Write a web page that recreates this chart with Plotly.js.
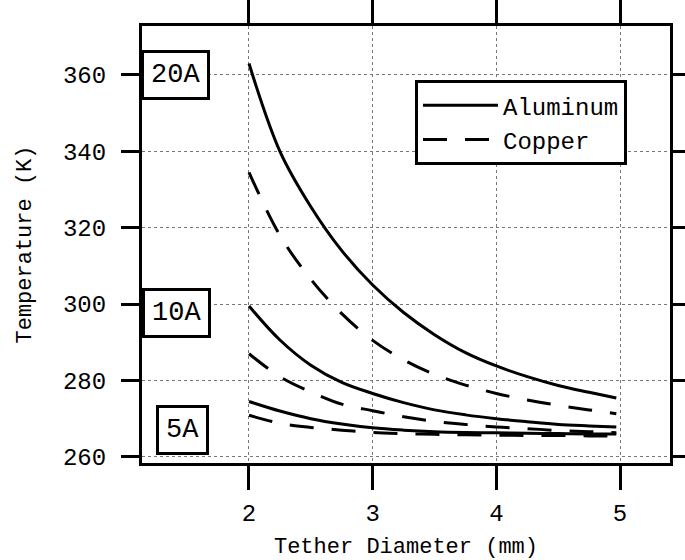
<!DOCTYPE html>
<html>
<head>
<meta charset="utf-8">
<script src="https://cdn.plot.ly/plotly-3.0.1.min.js"></script>
<style>html,body{margin:0;padding:0;background:#fff;}#chart{width:685px;height:560px;}</style>
</head>
<body>
<div id="chart"></div>
<script>
// Tether diameter (mm)
const diameter = [2, 2.25, 2.5, 2.75, 3, 3.25, 3.5, 3.75, 4, 4.25, 4.5, 4.75, 4.97];
// Temperature (K)
const al20 = [363, 340, 325.5, 314, 305, 297.8, 292, 287.3, 283.8, 281, 278.7, 276.9, 275.4];
const cu20 = [334.5, 318, 306.5, 297.5, 290.5, 285.4, 281.6, 278.8, 276.6, 274.9, 273.5, 272.3, 271.3];
const al10 = [299.5, 290.6, 284, 279.5, 276.6, 274.2, 272.3, 271, 270, 269.2, 268.5, 268.1, 267.8];
const cu10 = [287, 281, 277, 273.8, 272.1, 270.5, 269.3, 268.5, 267.8, 267.4, 266.9, 266.6, 266.3];
const al5 = [274.5, 272, 270, 268.6, 267.6, 267, 266.6, 266.4, 266.3, 266.2, 266.1, 266.0, 266.0];
const cu5 = [270.9, 268.8, 267.7, 267.0, 266.4, 266.1, 265.9, 265.8, 265.7, 265.6, 265.6, 265.5, 265.5];
const currentLabels = ["20A", "10A", "5A"];
const currentLabelY = [360, 297.7, 267];
const xTicks = [2, 3, 4, 5];
const yTicks = [260, 280, 300, 320, 340, 360];

const FONT = "Liberation Mono, Courier New, monospace";
const solid = {color: "#000", width: 3, shape: "spline", dash: "solid"};
const dashed = {color: "#000", width: 3, shape: "spline", dash: "24px,18px"};

const traces = [
  {x: diameter, y: al20, name: "Aluminum", mode: "lines", line: solid, showlegend: true},
  {x: diameter, y: cu20, name: "Copper", mode: "lines", line: dashed, showlegend: true},
  {x: diameter, y: al10, name: "Aluminum 10A", mode: "lines", line: solid, showlegend: false},
  {x: diameter, y: cu10, name: "Copper 10A", mode: "lines", line: dashed, showlegend: false},
  {x: diameter, y: al5, name: "Aluminum 5A", mode: "lines", line: solid, showlegend: false},
  {x: diameter, y: cu5, name: "Copper 5A", mode: "lines", line: dashed, showlegend: false}
];

const labelX = [0.064, 0.066, 0.076];
const annotations = currentLabels.map((t, i) => ({
  text: t, xref: "paper", yref: "y", x: labelX[i], y: currentLabelY[i],
  xanchor: "center", yanchor: "middle", showarrow: false,
  font: {family: FONT, size: 27, color: "#000"},
  bgcolor: "#fff", bordercolor: "#000", borderwidth: 3, borderpad: 7
}));

const axisCommon = {
  showline: true, linecolor: "#000", linewidth: 3, mirror: "ticks",
  ticks: "outside", tickcolor: "#000", tickwidth: 3,
  showgrid: true, gridcolor: "#777", gridwidth: 1, griddash: "dot",
  zeroline: false, tickfont: {family: FONT, size: 24, color: "#000"}
};

const layout = {
  width: 685, height: 560,
  margin: {l: 142, r: 15, t: 26, b: 97},
  paper_bgcolor: "#fff", plot_bgcolor: "#fff",
  font: {family: FONT, color: "#000"},
  showlegend: true,
  legend: {
    x: 0.517, y: 0.876, xanchor: "left", yanchor: "top",
    bgcolor: "#fff", bordercolor: "#000", borderwidth: 3,
    font: {family: FONT, size: 24, color: "#000"},
    itemwidth: 75, tracegroupgap: 0
  },
  xaxis: Object.assign({}, axisCommon, {
    range: [1.135, 5.404], tickvals: xTicks, ticktext: xTicks.map(String),
    ticklen: 24, ticklabelstandoff: 2,
    title: {text: "Tether Diameter (mm)", font: {family: FONT, size: 22, color: "#000"}, standoff: 22}
  }),
  yaxis: Object.assign({}, axisCommon, {
    range: [258.4, 372.8], tickvals: yTicks, ticktext: yTicks.map(String),
    ticklen: 18, ticklabelstandoff: 10,
    title: {text: "Temperature (K)", font: {family: FONT, size: 22, color: "#000"}, standoff: 26}
  }),
  annotations: annotations
};

Plotly.newPlot("chart", traces, layout, {displayModeBar: false, staticPlot: true});
</script>
</body>
</html>
